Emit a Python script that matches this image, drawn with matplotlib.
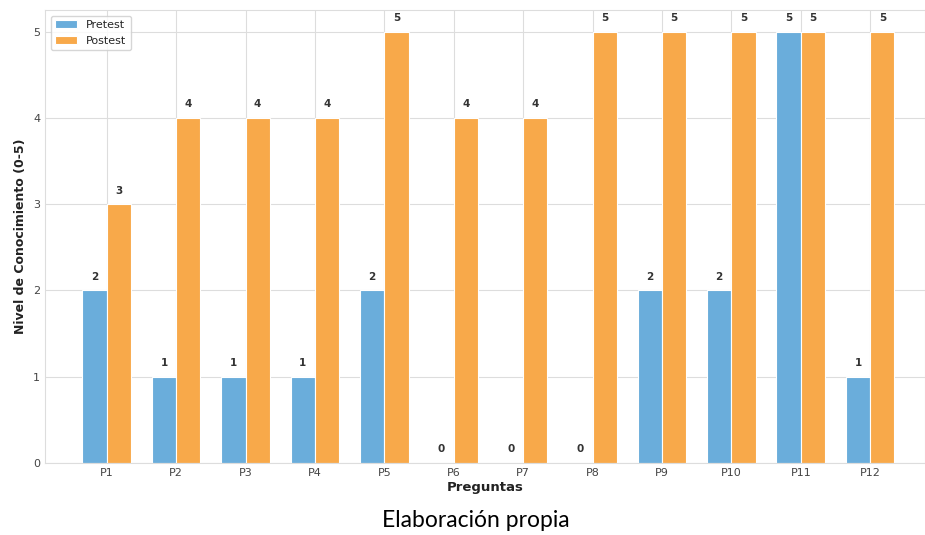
import matplotlib.pyplot as plt
import numpy as np
import seaborn as sns

# Datos
preguntas = ['P1', 'P2', 'P3', 'P4', 'P5', 'P6', 'P7', 'P8', 'P9', 'P10', 'P11', 'P12']
pretest = [2, 1, 1, 1, 2, 0, 0, 0, 2, 2, 5, 1]
postest = [3, 4, 4, 4, 5, 4, 4, 5, 5, 5, 5, 5]

sns.set_style('whitegrid')
plt.rcParams['font.family'] = ['DejaVu Sans']

fig = plt.figure(figsize=(9.25, 5.35), dpi=100)
ax = fig.add_axes([0.0486, 0.1346, 0.9514, 0.8464])

x = np.arange(len(preguntas))
ancho = 0.35

b1 = ax.bar(x - ancho / 2, pretest, ancho, label='Pretest', color='#6AADDB',
            edgecolor='white', linewidth=0.8)
b2 = ax.bar(x + ancho / 2, postest, ancho, label='Postest', color='#F8A94A',
            edgecolor='white', linewidth=0.8)

# Etiquetas de valores
for barras in (b1, b2):
    for b in barras:
        h = b.get_height()
        ax.text(b.get_x() + b.get_width() / 2, h + 0.1, f'{int(h)}',
                ha='center', va='bottom', fontsize=7.5, fontweight='bold', color='#333333')

ax.set_xticks(x, preguntas)
ax.set_yticks(range(6))
ax.set_xlim(-0.89, 11.79)
ax.set_ylim(0, 5.25)
ax.tick_params(labelsize=8, colors='#444444', length=0)
ax.set_xlabel('Preguntas', fontsize=9.5, fontweight='bold', color='#222222', labelpad=2)
ax.set_ylabel('Nivel de Conocimiento (0-5)', fontsize=9, fontweight='bold', color='#222222')
ax.set_axisbelow(True)
ax.grid(color='#dddddd', linewidth=0.8)
for s in ax.spines.values():
    s.set_color('#dddddd')

ax.legend(loc='upper left', fontsize=8, frameon=True)

fig.text(0.514, 0.008, 'Elaboración propia', ha='center', va='bottom',
         fontsize=16.5, family=['Lato', 'DejaVu Sans'], fontweight='normal', color='black')

plt.savefig('out.png', dpi=100)
